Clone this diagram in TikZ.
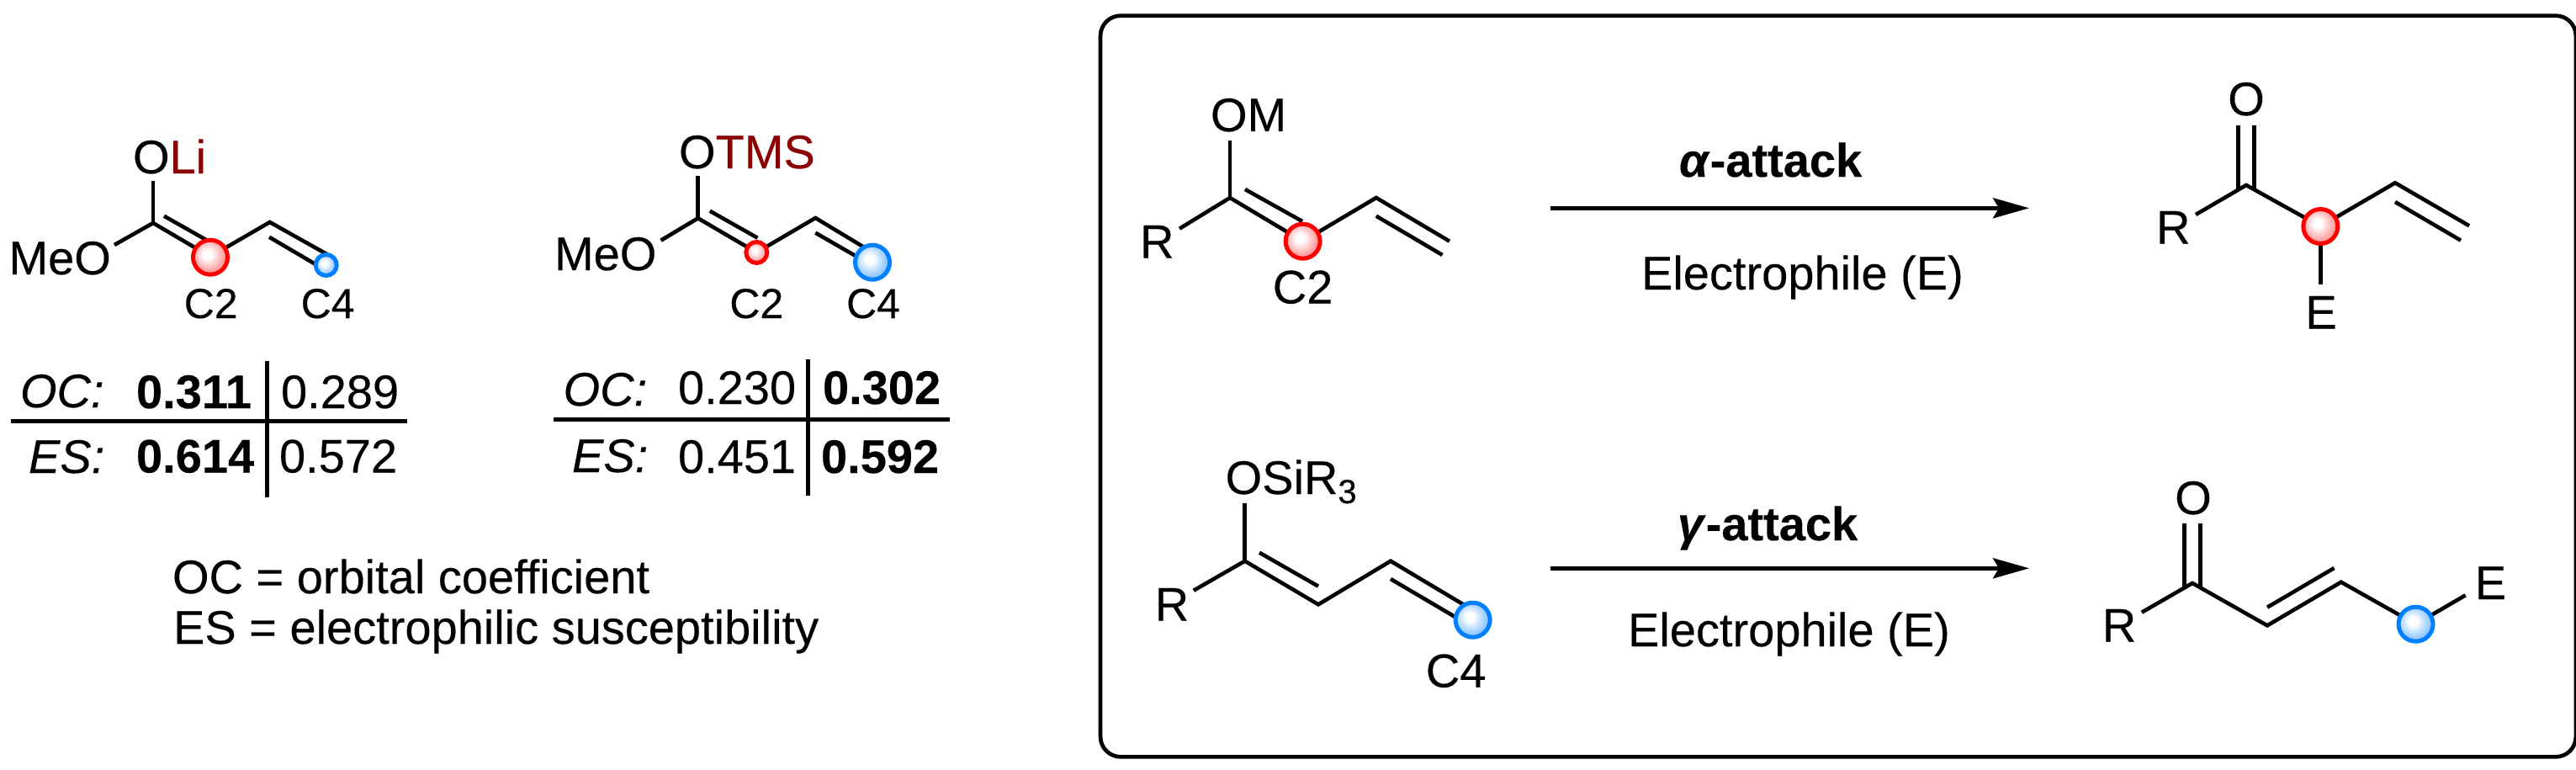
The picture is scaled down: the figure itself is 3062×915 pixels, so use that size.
\documentclass[tikz,border=0pt]{standalone}
\usepackage{fontspec}
\setmainfont{Liberation Sans}[FakeBold=0.25]
\usetikzlibrary{arrows.meta}
\definecolor{darkred}{RGB}{139,0,0}
\definecolor{ballred}{RGB}{255,0,0}
\definecolor{ballblue}{RGB}{0,128,255}
\pgfdeclareradialshading{redshade}{\pgfpoint{-5bp}{5bp}}{color(0bp)=(white); color(6bp)=(white); color(22bp)=(red!35!white); color(42bp)=(red!70!white); color(60bp)=(red!90!white)}
\pgfdeclareradialshading{blueshade}{\pgfpoint{-5bp}{5bp}}{color(0bp)=(white); color(6bp)=(white); color(22bp)=(ballblue!40!white); color(42bp)=(ballblue!80!white); color(60bp)=(ballblue)}
\tikzset{
  lab/.style={inner sep=0pt,outer sep=0pt,anchor=base west,font=\fontsize{56}{60}\selectfont},
  labc/.style={lab,anchor=base},
  labi/.style={lab,font=\fontsize{56}{60}\selectfont\itshape},
  labb/.style={lab,font=\fontsize{56}{60}\selectfont\bfseries},
  lbs/.style={inner sep=0pt,outer sep=0pt,anchor=base,font=\fontsize{50}{54}\selectfont},
  bond/.style={line width=4.6pt,line join=miter,line cap=butt},
  rule/.style={line width=5pt},
  redbig/.style={circle,inner sep=0pt,minimum size=41pt,draw=ballred,line width=5pt,shading=redshade},
  redsmall/.style={circle,inner sep=0pt,minimum size=25pt,draw=ballred,line width=5pt,shading=redshade},
  bluebig/.style={circle,inner sep=0pt,minimum size=41pt,draw=ballblue,line width=5pt,shading=blueshade},
  bluesmall/.style={circle,inner sep=0pt,minimum size=25pt,draw=ballblue,line width=5pt,shading=blueshade},
  rxn/.style={line width=4.7pt,-{Stealth[length=43pt,width=24pt,inset=7pt]}},
}
\begin{document}
\begin{tikzpicture}[x=1pt,y=-1pt]
\useasboundingbox (0,0) rectangle (3062,915);
\fill[white] (0,0) rectangle (3062,915);
% ---------- lithium enolate
\coordinate (a0) at (182,215);
\coordinate (a1) at (182,265);
\coordinate (am) at (136,291);
\coordinate (a2) at (250,305);
\coordinate (a3) at (320.7,264);
\coordinate (a4) at (392,304);
\coordinate (a5) at (195,256.7);
\coordinate (a6) at (245,285);
\coordinate (a7) at (320,281.7);
\coordinate (a8) at (375,314);
\draw[bond] (a0)--(a1);
\draw[bond] (am)--(a1)--(a2)--(a3)--(a4);
\draw[bond] (a5)--(a6);
\draw[bond] (a7)--(a8);
\node[redbig] (ab2) at (250,305.7) {};
\node[bluesmall] (ab4) at (387.7,315) {};
\node[lab] (aO) at (158,206) {O\textcolor{darkred}{Li}};
\node[lab] (aM) at (10.5,326) {MeO};
\node[lbs] (aC2) at (250.7,378) {C2};
\node[lbs] (aC4) at (389.6,378) {C4};
\coordinate (at1) at (13,500); \coordinate (at2) at (484,500);
\coordinate (at3) at (317,429); \coordinate (at4) at (317,591);
\draw[rule] (at1)--(at2); \draw[rule] (at3)--(at4);
\node[labi] (aOC) at (24,484) {OC:};
\node[labi] (aES) at (34,562) {ES:};
\node[labb] (av1) at (162,485) {0.311};
\node[lab] (av2) at (334,485) {0.289};
\node[labb] (av3) at (162,561.5) {0.614};
\node[lab] (av4) at (332,561.5) {0.572};
% ---------- silyl enol ether
\coordinate (b0) at (829.6,209);
\coordinate (b1) at (829.6,259.3);
\coordinate (bm) at (785.6,285.7);
\coordinate (b2) at (899.3,300);
\coordinate (b3) at (969.3,259);
\coordinate (b4) at (1034,298);
\coordinate (b5) at (843.8,250.7);
\coordinate (b6) at (900.4,282.7);
\coordinate (b7) at (969.3,276.7);
\coordinate (b8) at (1022,307);
\draw[bond] (b0)--(b1);
\draw[bond] (bm)--(b1)--(b2)--(b3)--(b4);
\draw[bond] (b5)--(b6);
\draw[bond] (b7)--(b8);
\node[redsmall] (bb2) at (899.3,300) {};
\node[bluebig] (bb4) at (1037,311.7) {};
\node[lab] (bO) at (807,200) {O\textcolor{darkred}{TMS}};
\node[lab] (bM) at (659,321) {MeO};
\node[lbs] (bC2) at (899.3,378) {C2};
\node[lbs] (bC4) at (1038,378) {C4};
\coordinate (bt1) at (658,498.7); \coordinate (bt2) at (1129,498.7);
\coordinate (bt3) at (960,426.7); \coordinate (bt4) at (960,589);
\draw[rule] (bt1)--(bt2); \draw[rule] (bt3)--(bt4);
\node[labi] (bOC) at (669.6,482) {OC:};
\node[labi] (bES) at (680,561) {ES:};
\node[lab] (bv1) at (806,480) {0.230};
\node[labb] (bv2) at (978,480) {0.302};
\node[lab] (bv3) at (806,562) {0.451};
\node[labb] (bv4) at (976,562) {0.592};
% ---------- legend
\node[lab] (lg1) at (205,705) {OC = orbital coefficient};
\node[lab] (lg2) at (206,765) {ES = electrophilic susceptibility};
% ---------- frame
\node[draw,line width=4.7pt,rounded corners=24pt,inner sep=0pt,minimum width=1753.8pt,minimum height=880.7pt,anchor=north west] (frame) at (1305.7,16.3) {};
% ---------- top reaction, substrate
\coordinate (c0) at (1462,167);
\coordinate (c1) at (1462,235);
\coordinate (cr) at (1402,271.7);
\coordinate (c2) at (1548.6,286.7);
\coordinate (c3) at (1635.8,235);
\coordinate (c4) at (1723,286.7);
\coordinate (c5) at (1480,225);
\coordinate (c6) at (1548,263);
\coordinate (c7) at (1635.8,256.7);
\coordinate (c8) at (1714.5,303);
\draw[bond] (c0)--(c1);
\draw[bond] (cr)--(c1)--(c2)--(c3)--(c4);
\draw[bond] (c5)--(c6);
\draw[bond] (c7)--(c8);
\node[redbig] (cb2) at (1548.6,286.7) {};
\node[lab] (cO) at (1439,156) {OM};
\node[labc] (cR) at (1375.3,306.5) {R};
\node[labc] (cC2) at (1548.6,360.5) {C2};
% ---------- top arrow
\coordinate (r1s) at (1842.5,247.3);
\coordinate (r1e) at (2412,247.3);
\draw[rxn] (r1s)--(r1e);
\node[labb] (r1t) at (1996,210) {\textit{α}-attack};
\node[lab] (r1b) at (1951,344) {Electrophile (E)};
% ---------- top product
\coordinate (d0a) at (2660.7,149);
\coordinate (d0b) at (2679.6,149);
\coordinate (d1a) at (2660.7,226);
\coordinate (d1b) at (2679.6,226);
\coordinate (d1) at (2670,220);
\coordinate (dr) at (2610,255);
\coordinate (d2) at (2758.3,269);
\coordinate (d3) at (2847,217.3);
\coordinate (d4) at (2935,268.3);
\coordinate (d5) at (2847,240);
\coordinate (d6) at (2925,285.7);
\coordinate (d7) at (2758.3,338);
\draw[bond] (d0a)--(d1a);
\draw[bond] (d0b)--(d1b);
\draw[bond] (dr)--(d1)--(d2)--(d3)--(d4);
\draw[bond] (d5)--(d6);
\draw[bond] (d2)--(d7);
\node[redbig] (db2) at (2758.3,269) {};
\node[labc] (dO) at (2670,137) {O};
\node[labc] (dR) at (2583.3,289.5) {R};
\node[labc] (dE) at (2759,390.5) {E};
% ---------- bottom reaction, substrate
\coordinate (e0) at (1479.7,598);
\coordinate (e1) at (1479.7,666.7);
\coordinate (er) at (1418.8,701.7);
\coordinate (e2) at (1567,718.3);
\coordinate (e3) at (1653,666.7);
\coordinate (e4) at (1750.6,725);
\coordinate (e5) at (1497,656.7);
\coordinate (e6) at (1567,696.7);
\coordinate (e7) at (1653,688);
\coordinate (e8) at (1738,738);
\draw[bond] (e0)--(e1);
\draw[bond] (er)--(e1)--(e2)--(e3)--(e4);
\draw[bond] (e5)--(e6);
\draw[bond] (e7)--(e8);
\node[bluebig] (eb4) at (1750.6,736.7) {};
\node[lab] (eO) at (1456.6,587) {OSiR{\fontsize{40}{40}\selectfont\raisebox{-11pt}{3}}};
\node[labc] (eR) at (1393,737.5) {R};
\node[labc] (eC4) at (1730.6,816.5) {C4};
% ---------- bottom arrow
\coordinate (r2s) at (1842.5,675.3);
\coordinate (r2e) at (2412,675.3);
\draw[rxn] (r2s)--(r2e);
\node[labb] (r2t) at (1994,642) {\textit{γ}-attack};
\node[lab] (r2b) at (1935,768) {Electrophile (E)};
% ---------- bottom product
\coordinate (f0a) at (2596.5,622.3);
\coordinate (f0b) at (2615.5,622.3);
\coordinate (f1a) at (2596.5,699);
\coordinate (f1b) at (2615.5,699);
\coordinate (f1) at (2606,693);
\coordinate (fr) at (2545.8,727.7);
\coordinate (f2) at (2695,743.3);
\coordinate (f3) at (2782.8,691.7);
\coordinate (f4) at (2871.5,741.7);
\coordinate (f5) at (2695,721.7);
\coordinate (f6) at (2774.5,675);
\coordinate (f7) at (2930.6,707.3);
\draw[bond] (f0a)--(f1a);
\draw[bond] (f0b)--(f1b);
\draw[bond] (fr)--(f1)--(f2)--(f3)--(f4);
\draw[bond] (f5)--(f6);
\draw[bond] (f4)--(f7);
\node[bluebig] (fb4) at (2871.5,741.7) {};
\node[labc] (fO) at (2607,611) {O};
\node[labc] (fR) at (2519,762.5) {R};
\node[labc] (fE) at (2960.4,712) {E};
\end{tikzpicture}
\end{document}
